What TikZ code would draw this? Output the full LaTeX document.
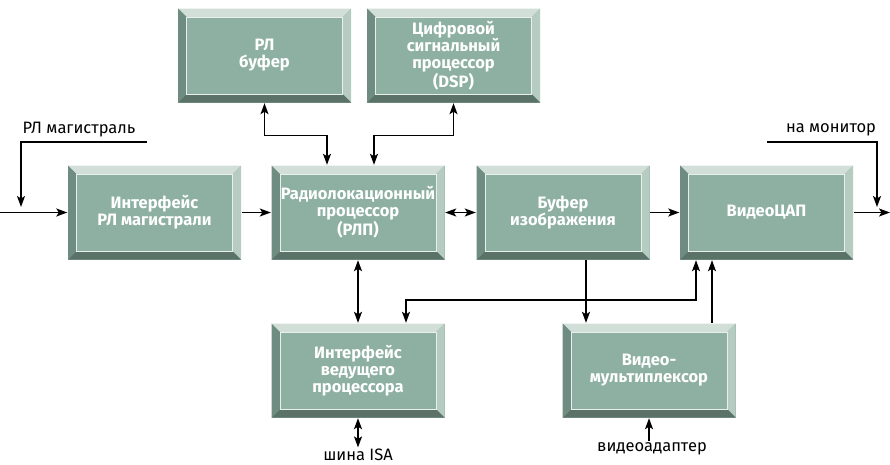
\documentclass[tikz,border=0pt]{standalone}
\usepackage{fontspec}
\setmainfont{Fira Sans}
\usetikzlibrary{arrows.meta}

\definecolor{gran}{HTML}{8DB0A3}
\definecolor{bvtop}{HTML}{D2DFD9}
\definecolor{bvright}{HTML}{B6CBC1}
\definecolor{bvleft}{HTML}{6E8C81}
\definecolor{bvbot}{HTML}{5B7269}
\def\bv{8.5pt}

\tikzset{
  blok/.style={fill=gran, minimum width=173pt, minimum height=94pt, inner sep=0pt,
    text=white, align=center, font=\fontsize{16.5}{17}\selectfont\bfseries,
    path picture={
      \coordinate (nw) at (path picture bounding box.north west);
      \coordinate (ne) at (path picture bounding box.north east);
      \coordinate (se) at (path picture bounding box.south east);
      \coordinate (sw) at (path picture bounding box.south west);
      \fill[bvtop] (nw) -- (ne) -- ([shift={(-\bv,-\bv)}]ne) -- ([shift={(\bv,-\bv)}]nw) -- cycle;
      \fill[bvright] (ne) -- (se) -- ([shift={(-\bv,\bv)}]se) -- ([shift={(-\bv,-\bv)}]ne) -- cycle;
      \fill[bvbot] (se) -- (sw) -- ([shift={(\bv,\bv)}]sw) -- ([shift={(-\bv,\bv)}]se) -- cycle;
      \fill[bvleft] (sw) -- (nw) -- ([shift={(\bv,-\bv)}]nw) -- ([shift={(\bv,\bv)}]sw) -- cycle;
      \draw[white!80!gran, line width=0.9pt] ([shift={(\bv,-\bv)}]nw) rectangle ([shift={(-\bv,\bv)}]se);
    }},
  lbl/.style={inner sep=1pt, font=\fontsize{16.5}{18}\selectfont}
}

\begin{document}
\begin{tikzpicture}[x=1pt,y=-1pt,line width=1.4pt,>={Stealth[length=11pt,width=8pt,inset=2.5pt]}]
\useasboundingbox (0,0) rectangle (890,464);

\node[blok] (rlbuf) at (264.5,55.5) {РЛ\\буфер};
\node[blok] (dsp) at (453.5,55.5) {Цифровой\\сигнальный\\процессор\\(DSP)};
\node[blok] (iface) at (154.5,212.5) {Интерфейс\\РЛ магистрали};
\node[blok] (rlp) at (358,212.5) {Радиолокационный\\процессор\\(РЛП)};
\node[blok] (bufimg) at (563,212.5) {Буфер\\изображения};
\node[blok] (dac) at (766.5,212.5) {ВидеоЦАП};
\node[blok] (host) at (358,370.5) {Интерфейс\\ведущего\\процессора};
\node[blok] (mux) at (649,370.5) {Видео-\\мультиплексор};

\node[lbl] (lblin) at (79,130) {РЛ магистраль};
\node[lbl] (lblout) at (831,130) {на монитор};
\node[lbl] (isa) at (358,455) {шина ISA};
\node[lbl] (vad) at (652,449) {видеоадаптер};

\coordinate (in) at (0,212.5);
\coordinate (out) at (890,212.5);
\coordinate (ina) at (147,142);
\coordinate (inb) at (21,142);
\coordinate (inc) at (21,207);
\coordinate (outa) at (767,142);
\coordinate (outb) at (877,142);
\coordinate (outc) at (877,207);

\draw[->] (in) -- (iface.west);
\draw[->] (ina) -- (inb) -- (inc);
\draw[->] (iface.east) -- (rlp.west);
\draw[<->] (rlp.east) -- (bufimg.west);
\draw[->] (bufimg.east) -- (dac.west);
\draw[->] (dac.east) -- (out);
\draw[->] (outa) -- (outb) -- (outc);

\draw[<->] (rlbuf.south) -- ++(0,32) -| ([xshift=-31pt]rlp.north);
\draw[<->] (dsp.south) -- ++(0,32) -| ([xshift=16pt]rlp.north);

\draw[<->] (rlp.south) -- (host.north);
\draw[->] ([xshift=23pt]bufimg.south) -- ([xshift=23pt]bufimg.south |- mux.north);
\draw[<->] ([xshift=48pt]host.north) -- ++(0,-23) -| ([xshift=-70.5pt]dac.south);
\draw[->] ([xshift=63pt]mux.north) -- ([xshift=63pt]mux.north |- dac.south);

\draw[<->] (host.south) -- (isa.north);
\draw[->] (mux.south |- vad.north) -- (mux.south);

\end{tikzpicture}
\end{document}
